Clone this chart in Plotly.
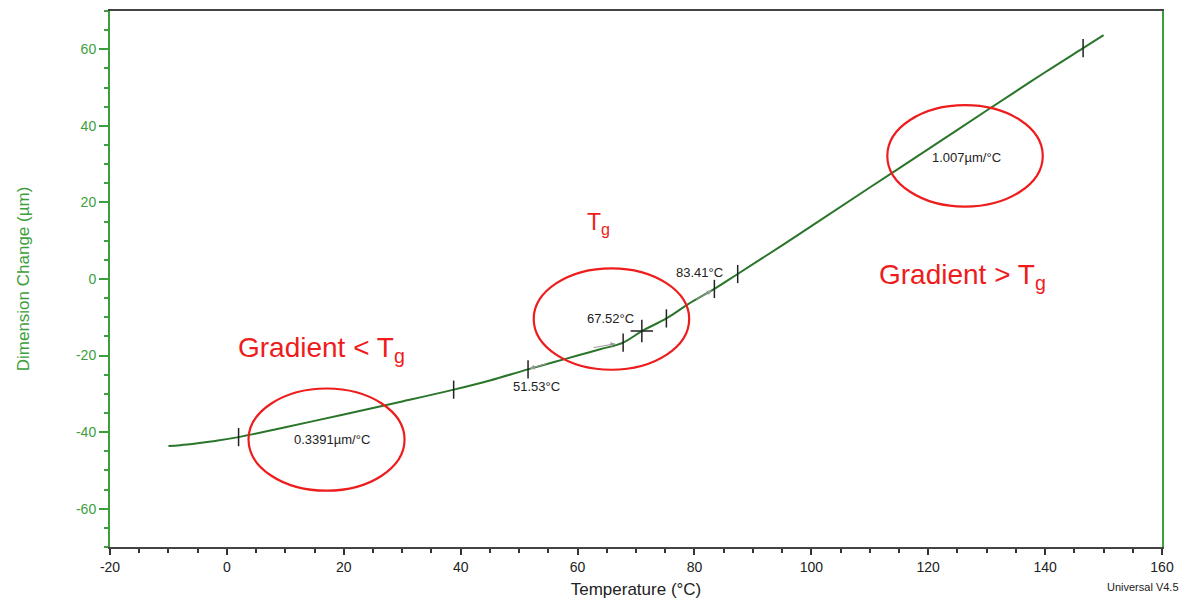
import plotly.graph_objects as go

# ---- data ----
temp_c = [-10, -8, -5, -2, 2, 10, 20, 30, 38.8, 45, 51.5, 56, 60, 64, 67.8, 71,
          75.2, 79, 83.4, 87.4, 95, 100, 110, 120, 130, 140, 146.5, 150]
dim_change_um = [-43.6, -43.4, -42.9, -42.3, -41.3, -38.7, -35.4, -32.0, -28.9, -26.5,
                 -23.6, -21.7, -20.0, -18.3, -16.6, -13.6, -10.3, -6.5, -2.6, 1.3,
                 8.8, 13.8, 23.9, 33.9, 44.0, 54.0, 60.3, 63.7]

tick_temp = [2.0, 38.8, 51.53, 67.8, 75.2, 83.41, 87.4, 146.5]
tick_dim = [-41.3, -28.9, -23.6, -16.6, -10.3, -2.6, 1.3, 60.3]
tg_temp = [71.0]
tg_dim = [-13.6]

x_ticks = [-20, 0, 20, 40, 60, 80, 100, 120, 140, 160]
x_tick_labels = ["-20", "0", "20", "40", "60", "80", "100", "120", "140", "160"]
y_ticks = [-60, -40, -20, 0, 20, 40, 60]
y_tick_labels = ["-60", "-40", "-20", "0", "20", "40", "60"]

GREEN_AX = "#3c9e3c"
GREEN_LINE = "#2a752a"
RED = "#ee1c1c"
FONT = "Liberation Sans, Arial, sans-serif"

fig = go.Figure()
fig.add_trace(go.Scatter(x=temp_c, y=dim_change_um, mode="lines",
                         line=dict(color=GREEN_LINE, width=2, shape="spline", smoothing=1.1),
                         hoverinfo="x+y"))
fig.add_trace(go.Scatter(x=tick_temp, y=tick_dim, mode="markers",
                         marker=dict(symbol="line-ns", size=13,
                                     line=dict(color="#222222", width=1.5))))
fig.add_trace(go.Scatter(x=tg_temp, y=tg_dim, mode="markers",
                         marker=dict(symbol="cross-thin", size=16,
                                     line=dict(color="#222222", width=1.5))))

# red ellipses
for x0, x1, y0, y1 in [(3.7, 30.4, -55.3, -28.6), (52.5, 79.1, -23.7, 2.8), (113.0, 139.6, 18.9, 45.4)]:
    fig.add_shape(type="circle", xref="x", yref="y", x0=x0, x1=x1, y0=y0, y1=y1,
                  line=dict(color=RED, width=2.2))

small = dict(family=FONT, size=13, color="#222222")
for txt, x, y in [("0.3391µm/°C", 17.9, -41.9), ("1.007µm/°C", 126.5, 31.8),
                  ("67.52°C", 65.6, -10.3), ("83.41°C", 80.8, 1.7), ("51.53°C", 53.0, -28.2)]:
    fig.add_annotation(x=x, y=y, text=txt, showarrow=False, font=small)

# small gray arrows along the curve
for ax_, ay_, x_, y_ in [(55.0, -22.0, 51.8, -23.4), (80.0, -5.5, 83.0, -3.0), (62.5, -18.0, 66.5, -16.9)]:
    fig.add_annotation(x=x_, y=y_, ax=ax_, ay=ay_, xref="x", yref="y", axref="x", ayref="y",
                       text="", showarrow=True, arrowhead=2, arrowsize=1, arrowwidth=1,
                       arrowcolor="#999999")

red_font = dict(family=FONT, size=28, color=RED)
fig.add_annotation(x=1.6, y=-18.3, text="Gradient &lt; T<sub>g</sub>", showarrow=False,
                   xanchor="left", yanchor="middle", font=red_font)
fig.add_annotation(x=111.3, y=0.6, text="Gradient &gt; T<sub>g</sub>", showarrow=False,
                   xanchor="left", yanchor="middle", font=red_font)
fig.add_annotation(x=61.2, y=14.6, text="T<sub>g</sub>", showarrow=False,
                   xanchor="left", yanchor="middle", font=dict(family=FONT, size=23, color=RED))

fig.add_annotation(xref="paper", yref="paper", x=1.018, y=-0.06, text="Universal V4.5",
                   showarrow=False, xanchor="right", yanchor="top",
                   font=dict(family=FONT, size=11, color="#222222"))

fig.update_layout(
    width=1201, height=605,
    margin=dict(l=110, r=39, t=9, b=54),
    paper_bgcolor="white", plot_bgcolor="white",
    showlegend=False,
    font=dict(family=FONT),
    xaxis=dict(range=[-20, 160], tickvals=x_ticks, ticktext=x_tick_labels,
               showgrid=False, zeroline=False,
               showline=True, linecolor="#444444", linewidth=1.5, mirror=True,
               ticks="outside", ticklen=6, tickcolor="#333333", tickwidth=1.5,
               minor=dict(dtick=5, ticks="outside", ticklen=4, tickcolor="#333333", tickwidth=1.5),
               tickfont=dict(size=14, color="#222222"),
               title=dict(text="Temperature (°C)", font=dict(size=17, color="#222222"), standoff=10)),
    yaxis=dict(range=[-70, 70], tickvals=y_ticks, ticktext=y_tick_labels,
               showgrid=False, zeroline=False,
               showline=True, linecolor=GREEN_AX, linewidth=2, mirror=True,
               ticks="outside", ticklen=9, tickcolor=GREEN_AX, tickwidth=1.5,
               minor=dict(dtick=5, ticks="outside", ticklen=4, tickcolor=GREEN_AX, tickwidth=1.5),
               tickfont=dict(size=14, color=GREEN_AX),
               title=dict(text="Dimension Change (µm)", font=dict(size=17, color=GREEN_AX), standoff=42)),
)

fig.write_html("out.html")
